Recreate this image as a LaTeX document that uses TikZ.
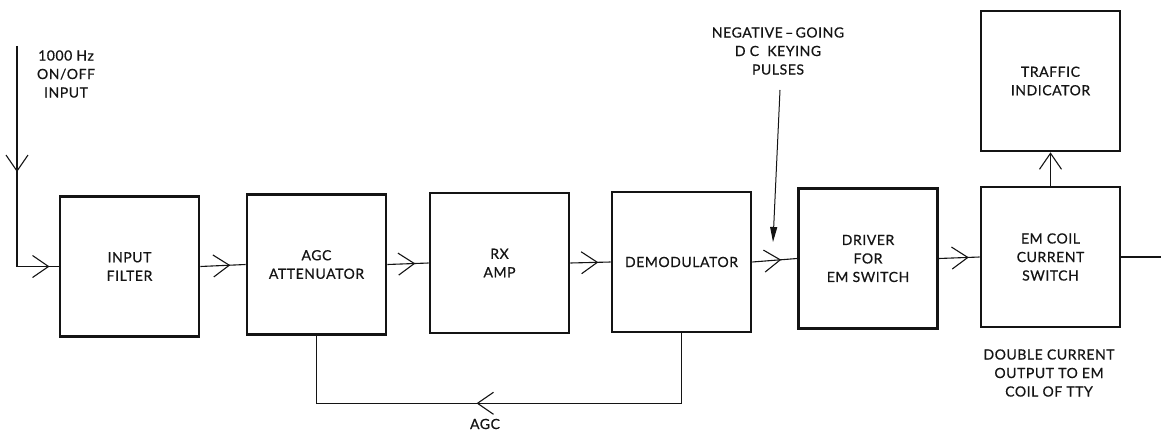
\documentclass[tikz,border=0pt]{standalone}
\usepackage{fontspec}
\setmainfont{Lato}[LetterSpace=4.0]
\newfontfamily\lblfont{Lato}[Ligatures=TeX, LetterSpace=4.0, FakeBold=0.6]
\usetikzlibrary{arrows.meta,decorations.markings}
\definecolor{ink}{RGB}{20,20,20}
\newcommand{\lbl}{\lblfont\fontsize{14}{18.5}\selectfont}
\tikzset{
  opv/.tip={Straight Barb[length=16pt,width=22pt]},
  blk/.style={draw=ink, line width=2.6pt, minimum width=139pt, minimum height=140pt,
    align=center, inner sep=0pt, font=\lbl, text=ink},
  txt/.style={align=center, inner sep=0pt, font=\lbl, text=ink},
  wire/.style={draw=ink, line width=1.1pt},
  vtip/.style={postaction={decorate, decoration={markings,
    mark=at position #1 with {\arrow{opv}}}}},
}
\begin{document}
\begin{tikzpicture}[x=1pt,y=-1pt]
  \useasboundingbox (0,0) rectangle (1161,444);
  % receive chain
  \node[blk] (filter) at (129.5,266.5) {INPUT\\FILTER};
  \node[blk] (agc) at (316.5,264.5) {AGC\\ATTENUATOR};
  \node[blk] (rxamp) at (499.5,263) {RX\\AMP};
  \node[blk] (demod) at (681.5,262) {DEMODULATOR};
  \node[blk] (driver) at (868,258.5) {DRIVER\\FOR\\EM SWITCH};
  \node[blk] (emsw) at (1050.5,257) {EM COIL\\CURRENT\\SWITCH};
  \node[blk] (traffic) at (1050.5,81) {TRAFFIC\\INDICATOR};
  % labels
  \node[txt] (inlbl) at (66,74) {1000 Hz\\ON/OFF\\INPUT};
  \node[txt] (keylbl) at (778,51) {NEGATIVE\,\textendash\,GOING\\D C\ \ KEYING\\PULSES};
  \node[txt] (outlbl) at (1049,373) {DOUBLE CURRENT\\OUTPUT TO EM\\COIL OF TTY};
  \node[txt] (agclbl) at (485,424) {AGC};
  \coordinate (inp) at (17,46);
  \coordinate (ktop) at (780,90);
  \coordinate (ktip) at (773,242);
  \coordinate (outp) at (1161,257);
  % signal path
  \draw[wire, vtip=126pt, vtip=253pt] (inp) |- (filter.west);
  \draw[wire, vtip=30pt] (filter.east) -- (agc.west);
  \draw[wire, vtip=28pt] (agc.east) -- (rxamp.west);
  \draw[wire, vtip=28pt] (rxamp.east) -- (demod.west);
  \draw[wire, vtip=29pt] (demod.east) -- (driver.west);
  \draw[wire, vtip=30pt] (driver.east) -- (emsw.west);
  \draw[wire] (emsw.east) -- (outp);
  \draw[wire, -{opv}] (emsw.north) -- (traffic.south);
  % agc loop
  \draw[wire, vtip=275pt] (demod.south) -- ++(0,70) -| (agc.south);
  % keying pulses
  \draw[ink, line width=1pt, -{Triangle[length=15pt,width=7pt]}] (ktop) -- (ktip);
\end{tikzpicture}
\end{document}
